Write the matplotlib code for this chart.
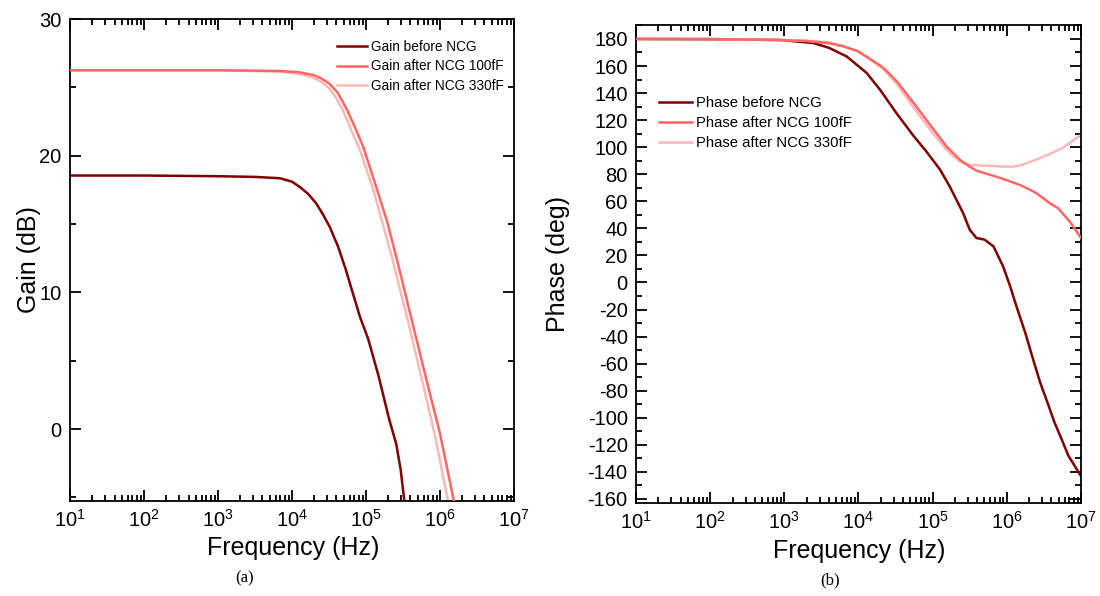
import numpy as np
import matplotlib
matplotlib.use('Agg')
import matplotlib.pyplot as plt
from matplotlib.ticker import FixedLocator, LogLocator, LogFormatterMathtext, MultipleLocator, NullFormatter

plt.rcParams['font.family'] = ['Liberation Sans', 'DejaVu Sans']
plt.rcParams['mathtext.fontset'] = 'custom'
plt.rcParams['mathtext.rm'] = 'Liberation Sans'
plt.rcParams['mathtext.default'] = 'regular'
plt.rcParams['axes.unicode_minus'] = False

# gain curves (log10 of frequency, dB)
gain_before_logf = [1.0, 2.0, 3.0, 3.5, 3.84, 4.0, 4.11, 4.22, 4.33, 4.42, 4.51, 4.62, 4.72, 4.82, 4.92,
                    5.03, 5.17, 5.31, 5.41, 5.47, 5.52]
gain_before = [18.55, 18.55, 18.5, 18.45, 18.35, 18.1, 17.7, 17.2, 16.5, 15.7, 14.8, 13.4, 11.8, 10.0, 8.2,
               6.6, 3.9, 0.8, -1.1, -3.0, -5.3]

gain_100_logf = [1.0, 2.0, 3.0, 3.84, 4.1, 4.29, 4.4, 4.51, 4.62, 4.74, 4.85, 4.96, 5.14, 5.28, 5.41,
                 5.55, 5.70, 5.85, 6.0, 6.19]
gain_100 = [26.25, 26.25, 26.25, 26.2, 26.1, 25.9, 25.65, 25.25, 24.6, 23.4, 22.1, 20.7, 17.7, 15.3, 12.6,
            9.5, 6.2, 2.9, -0.3, -5.3]

gain_330_logf = [1.0, 2.0, 3.0, 3.84, 4.1, 4.29, 4.4, 4.51, 4.6, 4.69, 4.8, 4.92, 5.10, 5.35, 5.55,
                 5.74, 5.93, 6.11]
gain_330 = [26.25, 26.25, 26.25, 26.15, 26.0, 25.7, 25.4, 24.9, 24.2, 23.3, 21.9, 20.4, 17.5, 12.6, 8.3,
            4.0, -0.4, -5.3]

# phase curves (log10 of frequency, deg)
phase_before_logf = [1.0, 2.0, 2.94, 3.39, 3.6, 3.84, 4.11, 4.29, 4.51, 4.74, 4.92, 5.10, 5.23, 5.41,
                     5.50, 5.59, 5.70, 5.82, 5.95, 6.04, 6.13, 6.25, 6.35, 6.45, 6.55, 6.64, 6.74,
                     6.83, 6.92, 7.0]
phase_before = [180, 179.8, 179.3, 177.0, 173.5, 167.1, 154.9, 142.5, 125.3, 108.5, 96.5, 83.4, 71.0, 51.4,
                39.0, 32.9, 31.7, 26.7, 11.9, -2.0, -17.6, -37.4, -56, -74, -89, -103, -116,
                -128, -136, -143]

phase_100_logf = [1.0, 2.0, 3.0, 3.3, 3.61, 3.8, 3.99, 4.15, 4.33, 4.52, 4.76, 5.0, 5.19, 5.37, 5.50,
                  5.59, 5.72, 5.86, 6.02, 6.18, 6.29, 6.40, 6.58, 6.69, 6.85, 7.0]
phase_100 = [180, 180, 179, 178.5, 176.8, 174.5, 171, 165.5, 159, 148.5, 131.5, 114, 100.4, 90.6, 85.6,
             82.7, 80.5, 78.2, 75.2, 72, 69.2, 66, 58.6, 55, 45, 33]

phase_330_logf = [1.0, 2.0, 3.0, 3.3, 3.61, 3.8, 3.99, 4.15, 4.33, 4.52, 4.76, 5.0, 5.19, 5.28, 5.37,
                  5.43, 5.50, 5.64, 5.86, 5.97, 6.08, 6.17, 6.26, 6.35, 6.44, 6.51, 6.58, 6.66,
                  6.75, 6.87, 7.0]
phase_330 = [180, 180, 179.2, 178.7, 177.5, 174.5, 171, 165, 158, 146.5, 128, 110.5, 98, 93.2, 89.5,
             88, 87, 86.5, 86, 85.7, 85.6, 86.5, 88, 89.8, 91.8, 93.4, 95, 97,
             99.5, 104, 109]

c_before = '#800000'
c_100 = '#ff6666'
c_330 = '#ffb8b8'

fig = plt.figure(figsize=(11, 5.96), dpi=100)
ax1 = fig.add_axes([0.0636, 0.1594, 0.4036, 0.8087])
ax2 = fig.add_axes([0.5782, 0.156, 0.4045, 0.802])


def style_axis(ax):
    ax.set_xscale('log')
    ax.set_xlim(10, 1e7)
    ax.xaxis.set_major_locator(FixedLocator([1e1, 1e2, 1e3, 1e4, 1e5, 1e6, 1e7]))
    ax.xaxis.set_major_formatter(LogFormatterMathtext())
    ax.xaxis.set_minor_locator(LogLocator(base=10, subs=np.arange(2, 10), numticks=20))
    ax.xaxis.set_minor_formatter(NullFormatter())
    ax.tick_params(which='both', direction='in', top=True, right=True, width=1.3, labelsize=14.5)
    ax.tick_params(which='major', length=8, pad=6)
    ax.tick_params(which='minor', length=4.5)
    for s in ax.spines.values():
        s.set_linewidth(1.3)


lw = 1.8
ax1.plot(10 ** np.array(gain_before_logf), gain_before, color=c_before, lw=lw, label='Gain before NCG')
ax1.plot(10 ** np.array(gain_330_logf), gain_330, color=c_330, lw=lw, zorder=2)
ax1.plot(10 ** np.array(gain_100_logf), gain_100, color=c_100, lw=lw, label='Gain after NCG 100fF', zorder=3)
ax1.plot([], [], color=c_330, lw=lw, label='Gain after NCG 330fF')
style_axis(ax1)
ax1.set_ylim(-5.26, 30)
ax1.yaxis.set_major_locator(MultipleLocator(10))
ax1.yaxis.set_minor_locator(MultipleLocator(5))
ax1.set_xlabel('Frequency (Hz)', fontsize=18)
ax1.set_ylabel('Gain (dB)', fontsize=18)
ax1.xaxis.set_label_coords(0.502, -0.098)
ax1.xaxis.label.set_verticalalignment('center')
ax1.yaxis.set_label_coords(-0.092, 0.5)
ax1.yaxis.label.set_verticalalignment('center')
ax1.legend(loc='upper left', bbox_to_anchor=(0.601, 0.957), frameon=False, fontsize=9.8,
           handlelength=2.2, handletextpad=0.3, labelspacing=0.42, borderpad=0, borderaxespad=0)

ax2.plot(10 ** np.array(phase_before_logf), phase_before, color=c_before, lw=lw, label='Phase before NCG')
ax2.plot(10 ** np.array(phase_330_logf), phase_330, color=c_330, lw=lw, zorder=2)
ax2.plot(10 ** np.array(phase_100_logf), phase_100, color=c_100, lw=lw, label='Phase after NCG 100fF', zorder=3)
ax2.plot([], [], color=c_330, lw=lw, label='Phase after NCG 330fF')
style_axis(ax2)
ax2.set_ylim(-163, 190.3)
ax2.yaxis.set_major_locator(MultipleLocator(20))
ax2.yaxis.set_minor_locator(MultipleLocator(10))
ax2.set_xlabel('Frequency (Hz)', fontsize=18)
ax2.set_ylabel('Phase (deg)', fontsize=18)
ax2.xaxis.set_label_coords(0.501, -0.1)
ax2.xaxis.label.set_verticalalignment('center')
ax2.yaxis.set_label_coords(-0.175, 0.5)
ax2.yaxis.label.set_verticalalignment('center')
ax2.legend(loc='upper left', bbox_to_anchor=(0.052, 0.852), frameon=False, fontsize=10.7,
           handlelength=2.2, handletextpad=0.3, labelspacing=0.42, borderpad=0, borderaxespad=0)

fig.text(245 / 1100, 1 - 578 / 596, '(a)', family='Liberation Serif', fontsize=12, ha='center', va='center')
fig.text(830 / 1100, 1 - 580 / 596, '(b)', family='Liberation Serif', fontsize=12, ha='center', va='center')

fig.savefig('out.png', dpi=100)
